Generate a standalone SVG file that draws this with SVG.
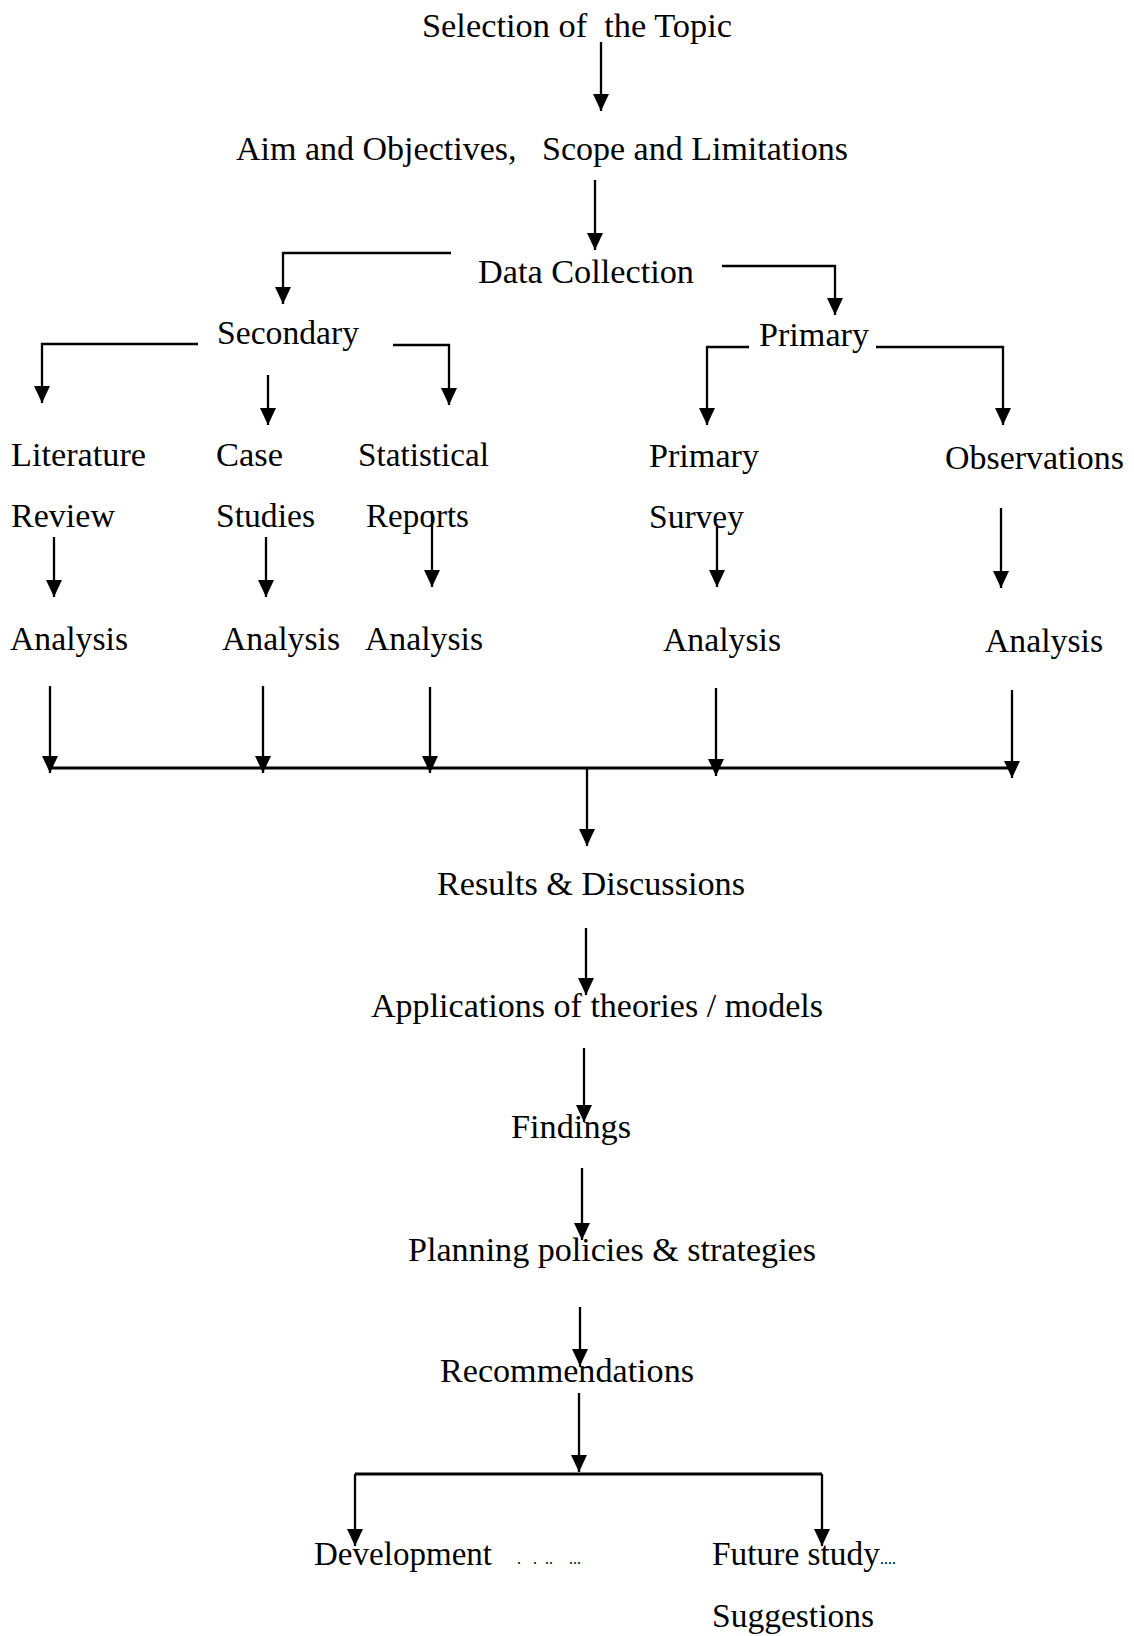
<svg xmlns="http://www.w3.org/2000/svg" width="1134" height="1636" viewBox="0 0 1134 1636">
<style>
text{font-family:"Liberation Serif","Times New Roman",serif;font-size:34px;fill:#000;white-space:pre}
.c path{fill:none;stroke:#000;stroke-width:2.3}
.c path.bus{stroke-width:3}
.dots{font-size:16px}
</style>
<defs>
<marker id="ah" markerUnits="userSpaceOnUse" markerWidth="18" markerHeight="18" refX="17" refY="8" orient="auto">
<path d="M0,0 L17,8 L0,16 z" fill="#000"/>
</marker>
</defs>
<rect width="1134" height="1636" fill="#fff"/>
<g id="n-topic"><text x="422" y="37" textLength="310" lengthAdjust="spacingAndGlyphs">Selection of  the Topic</text></g>
<g id="n-aim"><text x="236" y="160" textLength="612" lengthAdjust="spacingAndGlyphs">Aim and Objectives,   Scope and Limitations</text></g>
<g id="n-data"><text x="478" y="283" textLength="216" lengthAdjust="spacingAndGlyphs">Data Collection</text></g>
<g id="n-secondary"><text x="217" y="344" textLength="142" lengthAdjust="spacingAndGlyphs">Secondary</text></g>
<g id="n-primary"><text x="759" y="346" textLength="110" lengthAdjust="spacingAndGlyphs">Primary</text></g>
<g id="n-literature"><text x="11" y="466" textLength="135" lengthAdjust="spacingAndGlyphs">Literature</text><text x="11" y="527" textLength="104" lengthAdjust="spacingAndGlyphs">Review</text></g>
<g id="n-case"><text x="216" y="466" textLength="67" lengthAdjust="spacingAndGlyphs">Case</text><text x="216" y="527" textLength="99" lengthAdjust="spacingAndGlyphs">Studies</text></g>
<g id="n-statistical"><text x="358" y="466" textLength="131" lengthAdjust="spacingAndGlyphs">Statistical</text><text x="366" y="527" textLength="103" lengthAdjust="spacingAndGlyphs">Reports</text></g>
<g id="n-survey"><text x="649" y="467" textLength="110" lengthAdjust="spacingAndGlyphs">Primary</text><text x="649" y="528" textLength="95" lengthAdjust="spacingAndGlyphs">Survey</text></g>
<g id="n-observations"><text x="945" y="469" textLength="179" lengthAdjust="spacingAndGlyphs">Observations</text></g>
<g id="n-analysis1"><text x="10" y="650" textLength="118" lengthAdjust="spacingAndGlyphs">Analysis</text></g>
<g id="n-analysis2"><text x="222" y="650" textLength="118" lengthAdjust="spacingAndGlyphs">Analysis</text></g>
<g id="n-analysis3"><text x="365" y="650" textLength="118" lengthAdjust="spacingAndGlyphs">Analysis</text></g>
<g id="n-analysis4"><text x="663" y="651" textLength="118" lengthAdjust="spacingAndGlyphs">Analysis</text></g>
<g id="n-analysis5"><text x="985" y="652" textLength="118" lengthAdjust="spacingAndGlyphs">Analysis</text></g>
<g id="n-results"><text x="437" y="895" textLength="308" lengthAdjust="spacingAndGlyphs">Results &amp; Discussions</text></g>
<g id="n-applications"><text x="371" y="1017" textLength="452" lengthAdjust="spacingAndGlyphs">Applications of theories / models</text></g>
<g id="n-findings"><text x="511" y="1138" textLength="120" lengthAdjust="spacingAndGlyphs">Findings</text></g>
<g id="n-planning"><text x="408" y="1261" textLength="408" lengthAdjust="spacingAndGlyphs">Planning policies &amp; strategies</text></g>
<g id="n-recommendations"><text x="440" y="1382" textLength="254" lengthAdjust="spacingAndGlyphs">Recommendations</text></g>
<g id="n-development"><text x="314" y="1565" textLength="178" lengthAdjust="spacingAndGlyphs">Development</text><text class="dots" x="517" y="1564">.   .  ..    ...</text></g>
<g id="n-future"><text x="712" y="1565" textLength="168" lengthAdjust="spacingAndGlyphs">Future study</text><text class="dots" x="880" y="1564">....</text><text x="712" y="1627" textLength="162" lengthAdjust="spacingAndGlyphs">Suggestions</text></g>
<g id="connectors" class="c">
<path d="M601,42 V111" marker-end="url(#ah)"/>
<path d="M595,180 V250" marker-end="url(#ah)"/>
<path d="M451,253 H283 V304" marker-end="url(#ah)"/>
<path d="M722,266 H835 V315" marker-end="url(#ah)"/>
<path d="M198,344 H42 V403" marker-end="url(#ah)"/>
<path d="M268,375 V425" marker-end="url(#ah)"/>
<path d="M393,345 H449 V405" marker-end="url(#ah)"/>
<path d="M749,347 H707 V425" marker-end="url(#ah)"/>
<path d="M876,347 H1003 V425" marker-end="url(#ah)"/>
<path d="M54,537 V597" marker-end="url(#ah)"/>
<path d="M266,537 V597" marker-end="url(#ah)"/>
<path d="M432,511 V587" marker-end="url(#ah)"/>
<path d="M717,527 V587" marker-end="url(#ah)"/>
<path d="M1001,508 V588" marker-end="url(#ah)"/>
<path d="M50,686 V773" marker-end="url(#ah)"/>
<path d="M263,686 V773" marker-end="url(#ah)"/>
<path d="M430,687 V773" marker-end="url(#ah)"/>
<path d="M716,688 V776" marker-end="url(#ah)"/>
<path d="M1012,690 V778" marker-end="url(#ah)"/>
<path class="bus" d="M50,768 H1012"/>
<path d="M587,768 V846" marker-end="url(#ah)"/>
<path d="M586,928 V995" marker-end="url(#ah)"/>
<path d="M584,1048 V1122" marker-end="url(#ah)"/>
<path d="M582,1168 V1240" marker-end="url(#ah)"/>
<path d="M580,1307 V1366" marker-end="url(#ah)"/>
<path d="M579,1393 V1472" marker-end="url(#ah)"/>
<path class="bus" d="M355,1474 H822"/>
<path d="M355,1474 V1546" marker-end="url(#ah)"/>
<path d="M822,1474 V1546" marker-end="url(#ah)"/>
</g>
</svg>
